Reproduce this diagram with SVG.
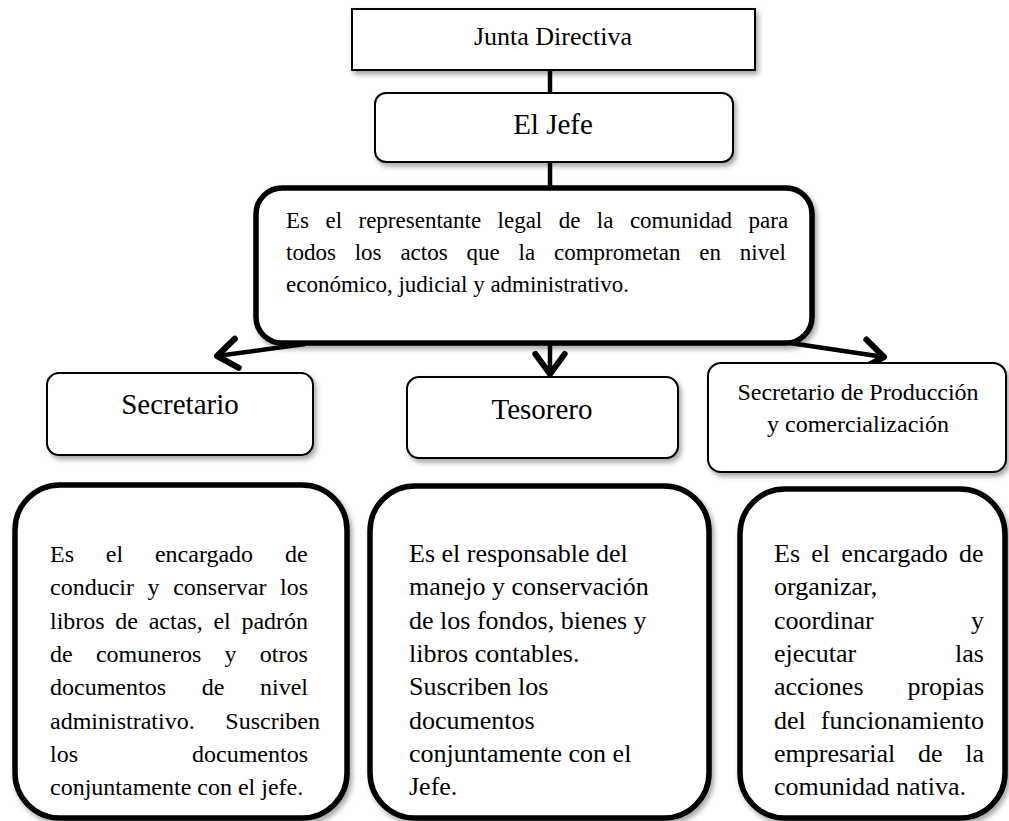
<svg xmlns="http://www.w3.org/2000/svg" width="1009" height="821" viewBox="0 0 1009 821">
<style>
text{font-family:"Liberation Serif","Times New Roman",serif;fill:#000}
.thin{fill:#fff;stroke:#000;stroke-width:2}
.thick{fill:#fff;stroke:#000;stroke-width:5.5}
.conn{stroke:#000;stroke-width:4.5;fill:none}
.t26{font-size:26px}
.t24{font-size:24px}
.t23{font-size:23px}
.t29{font-size:29px}
.mid{text-anchor:middle}
.end{text-anchor:end}
</style>
<defs>
<filter id="sh" x="-10%" y="-10%" width="130%" height="140%">
<feDropShadow dx="2.5" dy="3.5" stdDeviation="2.5" flood-color="#000" flood-opacity="0.35"/>
</filter>
<marker id="ah" markerUnits="userSpaceOnUse" markerWidth="40" markerHeight="40" viewBox="-20 -15 25 30" refX="0" refY="0" orient="auto" overflow="visible">
<path d="M-15,-11 L0,0 L-15,11" fill="none" stroke="#000" stroke-width="4.5" stroke-linecap="round" stroke-linejoin="round"/>
</marker>
</defs>
<rect width="1009" height="821" fill="#fff"/>

<g id="connectors">
<line class="conn" x1="550" y1="70" x2="550" y2="93"/>
<line class="conn" x1="550" y1="162" x2="550" y2="186"/>
<path class="conn" d="M305,344 L217,356" marker-end="url(#ah)"/>
<path class="conn" d="M550,344 L550,374" marker-end="url(#ah)"/>
<path class="conn" d="M790,343 L884,357" marker-end="url(#ah)"/>
</g>

<g id="junta">
<rect class="thin" x="352" y="9" width="403" height="61" filter="url(#sh)"/>
<text class="mid" x="553" y="45" style="font-size:26px">Junta Directiva</text>
</g>

<g id="jefe">
<rect class="thin" x="375" y="93" width="358" height="69" rx="11" filter="url(#sh)"/>
<text class="mid t29" x="553" y="134">El Jefe</text>
</g>

<g id="jefe-desc">
<rect class="thick" x="256" y="188" width="556" height="155" rx="26" filter="url(#sh)"/>
<text class="t23" x="286" y="228" word-spacing="10.7">Es el representante legal de la comunidad para</text>
<text class="t23" x="286" y="260" word-spacing="13.1">todos los actos que la comprometan en nivel</text>
<text class="t23" x="286" y="292">económico, judicial y administrativo.</text>
</g>

<g id="secretario">
<rect class="thin" x="47" y="373" width="266" height="82" rx="12" filter="url(#sh)"/>
<text class="mid t29" x="180" y="414">Secretario</text>
</g>

<g id="tesorero">
<rect class="thin" x="407" y="377" width="271" height="81" rx="12" filter="url(#sh)"/>
<text class="mid t29" x="542" y="419">Tesorero</text>
</g>

<g id="produccion">
<rect class="thin" x="708" y="363" width="298" height="109" rx="13" filter="url(#sh)"/>
<text class="mid t24" x="858" y="400">Secretario de Producción</text>
<text class="mid t24" x="858" y="432">y comercialización</text>
</g>

<g id="secretario-desc">
<rect class="thick" x="15" y="485" width="332" height="333" rx="45" filter="url(#sh)"/>
<text class="t24" x="50" y="562" word-spacing="25.8">Es el encargado de</text>
<text class="t24" x="50" y="595" word-spacing="7.6">conducir y conservar los</text>
<text class="t24" x="50" y="629" word-spacing="4.7">libros de actas, el padrón</text>
<text class="t24" x="50" y="662" word-spacing="17.3">de comuneros y otros</text>
<text class="t24" x="50" y="695" word-spacing="29.7">documentos de nivel</text>
<text class="t24" x="50" y="729" word-spacing="24.7">administrativo. Suscriben</text>
<text class="t24" x="50" y="762">los</text>
<text class="t24 end" x="308" y="762">documentos</text>
<text class="t24" x="50" y="795">conjuntamente con el jefe.</text>
</g>

<g id="tesorero-desc">
<rect class="thick" x="370" y="486" width="339" height="332" rx="45" filter="url(#sh)"/>
<text class="t26" x="409" y="562">Es el responsable del</text>
<text class="t26" x="409" y="595">manejo y conservación</text>
<text class="t26" x="409" y="629">de los fondos, bienes y</text>
<text class="t26" x="409" y="662">libros contables.</text>
<text class="t26" x="409" y="695">Suscriben los</text>
<text class="t26" x="409" y="729">documentos</text>
<text class="t26" x="409" y="762">conjuntamente con el</text>
<text class="t26" x="409" y="795">Jefe.</text>
</g>

<g id="produccion-desc">
<rect class="thick" x="740" y="489" width="265" height="329" rx="45" filter="url(#sh)"/>
<text class="t26" x="774" y="562" word-spacing="4.8">Es el encargado de</text>
<text class="t26" x="774" y="595">organizar,</text>
<text class="t26" x="774" y="629">coordinar</text>
<text class="t26 end" x="984" y="629">y</text>
<text class="t26" x="774" y="662">ejecutar</text>
<text class="t26 end" x="984" y="662">las</text>
<text class="t26" x="774" y="695">acciones</text>
<text class="t26 end" x="984" y="695">propias</text>
<text class="t26" x="774" y="729" word-spacing="8.5">del funcionamiento</text>
<text class="t26" x="774" y="762" word-spacing="16.2">empresarial de la</text>
<text class="t26" x="774" y="795">comunidad nativa.</text>
</g>
</svg>
